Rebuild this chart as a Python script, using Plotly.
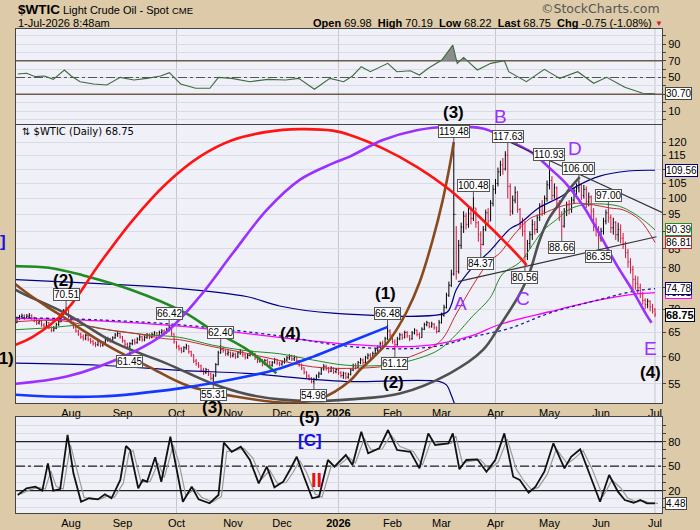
import numpy as np
import pandas as pd
import plotly.graph_objects as go

# daily bars, one (high, low, close) per weekday
jul25 = [(67.6, 66.3, 67.0), (68.3, 66.9, 67.9), (68.7, 67.6, 68.3), (69.0, 67.9, 68.5), (68.8, 67.6, 68.1),
         (68.9, 67.8, 68.4), (69.1, 68.0, 68.6), (68.8, 67.6, 68.0), (68.3, 67.1, 67.5), (67.8, 66.5, 66.9),
         (67.7, 66.6, 67.3), (67.4, 66.1, 66.5), (66.9, 65.8, 66.2), (67.4, 66.0, 67.0), (67.1, 65.6, 66.0),
         (66.2, 65.0, 65.4), (66.3, 65.1, 65.8), (67.0, 65.6, 66.6), (67.6, 66.3, 67.2), (69.2, 67.1, 68.8),
         (70.0, 68.6, 69.6), (70.51, 69.0, 69.9), (69.8, 67.9, 68.2)]
aug25 = [(68.5, 66.6, 67.0), (67.2, 65.7, 66.0), (66.3, 64.9, 65.2), (65.5, 64.2, 64.6), (64.9, 63.6, 64.0),
         (64.5, 63.2, 63.7), (64.6, 63.3, 64.3), (64.4, 63.1, 63.5), (63.8, 62.6, 63.0), (63.4, 62.2, 62.6),
         (63.0, 61.9, 62.4), (63.4, 62.1, 63.1), (63.2, 61.9, 62.3), (63.1, 62.0, 62.8), (63.6, 62.5, 63.3),
         (64.0, 63.0, 63.6), (63.8, 62.8, 63.2), (64.1, 63.0, 63.8), (64.8, 63.6, 64.4), (65.1, 64.0, 64.7),
         (64.9, 63.6, 64.0)]
sep25 = [(64.2, 62.8, 63.2), (63.4, 62.1, 62.5), (62.8, 61.6, 62.0), (62.9, 61.45, 62.6), (63.5, 62.3, 63.2),
         (63.6, 62.4, 62.8), (63.9, 62.6, 63.5), (64.4, 63.2, 64.0), (64.2, 63.0, 63.4), (64.3, 63.1, 63.9),
         (64.8, 63.6, 64.4), (64.7, 63.5, 63.9), (64.9, 63.7, 64.5), (65.2, 64.1, 64.8), (65.0, 63.9, 64.3),
         (65.3, 64.1, 64.9), (65.6, 64.5, 65.2), (65.5, 64.3, 64.8), (65.9, 64.7, 65.6), (66.42, 65.1, 65.9),
         (65.8, 64.2, 64.6), (64.7, 62.6, 63.0)]
oct25 = [(63.1, 61.6, 62.0), (62.4, 61.2, 61.6), (61.9, 60.7, 61.1), (62.1, 60.9, 61.8), (62.6, 61.4, 62.2),
         (62.3, 60.6, 61.0), (61.2, 60.0, 60.4), (60.5, 58.8, 59.2), (59.6, 58.3, 58.7), (59.0, 57.9, 58.3),
         (58.5, 57.1, 57.5), (57.9, 56.6, 57.0), (57.9, 56.8, 57.6), (57.7, 56.4, 56.8), (57.0, 55.6, 56.0),
         (56.8, 55.31, 56.4), (58.8, 56.3, 58.5), (61.2, 58.4, 60.8), (62.40, 60.6, 61.5), (62.0, 60.8, 61.2),
         (61.4, 60.2, 60.6), (61.3, 60.2, 60.9), (61.0, 59.8, 60.2)]
nov25 = [(60.9, 59.9, 60.5), (60.8, 59.6, 60.0), (61.1, 59.8, 60.8), (61.5, 60.4, 61.1), (61.2, 60.0, 60.4),
         (60.7, 59.5, 59.9), (60.6, 59.6, 60.3), (61.2, 60.1, 60.9), (61.2, 60.2, 60.6), (60.8, 59.4, 59.8),
         (60.0, 58.8, 59.2), (59.9, 58.9, 59.5), (59.6, 58.2, 58.6), (59.6, 58.4, 59.3), (59.6, 58.6, 59.0),
         (59.2, 58.0, 58.4), (59.2, 58.1, 58.9), (59.8, 58.7, 59.5), (59.6, 58.4, 58.8), (59.1, 58.2, 58.6)]
dec25 = [(59.3, 58.3, 59.0), (59.8, 58.7, 59.4), (60.2, 59.1, 59.8), (60.5, 59.4, 60.1), (60.4, 59.2, 59.6),
         (60.3, 59.2, 59.9), (60.1, 58.9, 59.3), (59.4, 58.1, 58.5), (58.7, 57.5, 57.9), (58.0, 56.7, 57.1),
         (57.3, 56.0, 56.4), (56.7, 55.6, 56.0), (56.2, 55.1, 55.4), (56.1, 54.98, 55.8), (56.7, 55.6, 56.4),
         (57.2, 56.0, 56.8), (58.0, 56.6, 57.7), (58.6, 57.4, 58.2), (58.5, 57.4, 57.8), (58.1, 56.9, 57.3),
         (58.2, 57.1, 57.9), (58.0, 56.8, 57.2), (57.9, 56.9, 57.6)]
jan26 = [(57.9, 56.6, 57.0), (57.3, 56.1, 56.5), (57.2, 55.9, 56.9), (57.1, 55.8, 56.2), (57.0, 55.9, 56.7),
         (57.8, 56.5, 57.5), (58.7, 57.3, 58.3), (58.8, 57.6, 58.0), (59.2, 57.9, 58.9), (59.8, 58.6, 59.4),
         (59.7, 58.5, 58.9), (60.2, 58.8, 59.8), (60.7, 59.5, 60.3), (60.7, 59.5, 59.9), (61.0, 59.7, 60.6),
         (61.7, 60.4, 61.3), (62.3, 61.0, 61.9), (63.0, 61.7, 62.6), (63.2, 61.8, 62.2), (64.0, 62.1, 63.6),
         (66.48, 63.4, 65.2), (65.6, 63.9, 64.4)]
feb26 = [(64.6, 62.6, 63.0), (63.5, 61.12, 62.4), (64.0, 62.2, 63.6), (64.8, 63.3, 64.4), (64.7, 63.4, 63.8),
         (65.3, 63.7, 64.9), (65.2, 63.8, 64.2), (64.4, 63.1, 63.6), (65.2, 63.4, 64.8), (65.8, 64.5, 65.4),
         (65.5, 64.1, 64.5), (64.9, 63.5, 63.9), (66.0, 63.8, 65.6), (67.0, 65.4, 66.6), (67.4, 66.2, 67.0),
         (67.1, 65.8, 66.2), (67.2, 65.9, 66.7), (66.9, 65.5, 65.9), (66.2, 64.7, 65.1), (67.6, 65.0, 67.0)]
mar26 = [(69.2, 66.8, 68.6), (71.0, 68.3, 70.4), (73.8, 70.1, 73.2), (76.5, 72.8, 75.6), (79.5, 75.2, 78.4),
         (119.48, 78.0, 95.0), (91.5, 77.0, 79.0), (87.5, 78.5, 86.0), (92.5, 85.0, 91.2), (96.0, 89.5, 94.5),
         (95.5, 90.5, 92.0), (97.0, 91.0, 95.2), (97.5, 92.0, 93.8), (100.48, 93.0, 97.0), (97.0, 91.0, 92.5),
         (93.0, 87.0, 89.0), (90.0, 84.37, 86.2), (91.5, 86.0, 90.5), (96.5, 90.0, 95.5), (97.0, 92.0, 93.0),
         (99.5, 93.0, 98.5), (104.5, 97.5, 103.0)]
apr26 = [(106.5, 101.5, 105.0), (110.5, 104.0, 109.0), (113.0, 107.5, 111.5), (114.0, 108.0, 110.0),
         (116.5, 109.5, 115.0), (117.63, 100.0, 104.0), (105.0, 94.5, 96.0), (101.0, 95.0, 99.5),
         (104.0, 98.5, 102.0), (102.5, 95.5, 96.5), (97.0, 90.5, 92.0), (94.0, 88.5, 90.0),
         (93.0, 80.56, 83.0), (87.5, 82.0, 86.5), (90.0, 85.0, 89.0), (93.5, 87.5, 92.0),
         (93.0, 89.0, 90.5), (95.0, 89.5, 94.0), (98.5, 93.0, 97.5), (99.5, 94.5, 96.0),
         (101.0, 95.0, 100.0), (106.0, 99.0, 104.5)]
may26 = [(110.93, 103.0, 106.0), (107.5, 99.5, 101.0), (105.0, 100.0, 103.5), (104.0, 97.0, 98.5),
         (99.5, 93.0, 95.0), (96.0, 88.66, 91.5), (97.0, 91.0, 96.0), (99.0, 94.5, 98.0),
         (99.5, 95.0, 96.5), (100.5, 95.5, 99.5), (103.5, 98.5, 102.5), (105.0, 101.0, 103.5),
         (106.00, 102.0, 104.5), (105.0, 99.5, 101.0), (104.5, 100.0, 103.0), (104.0, 97.0, 99.0),
         (102.0, 97.5, 100.5), (101.0, 94.0, 96.0), (97.0, 90.0, 92.0), (94.0, 88.5, 90.5),
         (91.5, 86.35, 88.0)]
jun26 = [(91.0, 87.0, 90.0), (94.0, 89.0, 93.0), (96.5, 92.0, 95.5), (97.00, 92.5, 94.0), (95.0, 89.5, 91.0),
         (94.0, 89.0, 92.5), (93.0, 87.5, 89.0), (92.5, 87.0, 90.5), (92.0, 86.5, 88.0), (89.5, 85.0, 86.5),
         (87.0, 82.5, 84.0), (85.0, 80.0, 81.5), (82.5, 78.5, 79.5), (80.5, 74.0, 77.0), (78.0, 74.5, 76.0),
         (77.8, 73.5, 75.0), (76.0, 72.5, 73.5), (74.0, 71.0, 72.0), (72.5, 70.0, 71.0), (72.4, 70.2, 71.8),
         (72.0, 69.5, 70.5), (71.2, 69.0, 69.5)]
jul26 = [(70.19, 68.22, 68.75)]
last_open = 69.98

# overlays, knots as (bar number, value)
ma_red_x = [0.5, 19.5, 34, 48, 61.6, 67.3, 80.8, 94.5, 108, 121.5, 135.3, 153, 159.7, 173.3, 180, 186.8,
            193.7, 197.7, 203.1, 209.9, 215.4, 222.2, 229, 235.8, 242.6, 248, 254.8, 261]
ma_red_y = [67.2, 67.4, 65.8, 64.8, 63.6, 63.4, 62.0, 60.7, 59.3, 58.1, 57.8, 58.4, 59.7, 63.0, 68.9, 75.6,
            81.8, 83.8, 88.6, 93.7, 95.3, 97.4, 98.5, 98.0, 97.0, 96.4, 93.3, 86.81]
ma_green_x = [0.5, 14, 27.7, 41.2, 54.8, 67.3, 80.8, 94.5, 108, 121.5, 135.3, 153, 166.5, 173.3, 180, 186.8,
              193.7, 199, 205.9, 211.3, 215.4, 220.8, 226.2, 231.7, 238.5, 246.6, 252, 257.5, 261]
ma_green_y = [65.5, 65.9, 66.4, 65.2, 64.4, 63.9, 62.3, 61.2, 60.6, 59.4, 58.4, 58.5, 60.0, 61.5, 64.5, 68.5,
              72.5, 78.5, 81.4, 86.3, 90.2, 93.4, 96.6, 98.0, 98.3, 97.5, 95.5, 92.6, 90.39]
band_up_x = [0.5, 34.7, 67.3, 94.5, 108, 129.7, 176, 178, 180, 186.8, 193.7, 201.8, 205.9, 214, 222.2,
             229, 238.5, 250, 261]
band_up_y = [77.0, 76.0, 74.8, 72.9, 70.7, 69.1, 69.2, 71.0, 74.5, 80.2, 84.4, 90.6, 92.3, 97.2, 100.4,
             104.0, 107.5, 109.3, 109.56]
band_lo_x = [0.5, 34.7, 68.6, 94.5, 121.5, 135.3, 173.3, 176, 178, 181]
band_lo_y = [58.8, 58.4, 57.4, 56.9, 55.8, 55.4, 55.4, 54.8, 53.0, 49.5]
ma_mag_x = [0.5, 34.5, 68.4, 108, 135.3, 159.7, 173.3, 186.8, 197.7, 218, 238.5, 252, 261]
ma_mag_y = [67.95, 67.4, 66.2, 63.9, 62.5, 62.0, 62.6, 64.3, 66.6, 69.4, 72.1, 73.4, 73.81]
ma_dot_x = [0.5, 34.5, 68.4, 108, 135.3, 159.7, 173.3, 186.8, 201.8, 218, 238.5, 248, 255, 261]
ma_dot_y = [68.1, 67.6, 66.5, 64.2, 62.1, 61.6, 62.2, 64.0, 65.8, 69.1, 72.2, 73.6, 74.4, 74.78]

# cycle arcs
arc_red_x = [-6, 7.4, 21.2, 34.7, 48.2, 61.9, 75.5, 88.9, 102.8, 116.2, 129.7, 136.6, 150.1, 163.9, 177.4,
             190.8, 201.8, 208.7]
arc_red_y = [61.3, 64.0, 69.8, 81.1, 93.3, 105.0, 114.5, 120.8, 124.0, 125.1, 124.5, 122.8, 117.6, 110.8,
             102.8, 93.3, 85.6, 80.7]
arc_purple_x = [-6, 21.2, 48.2, 61.9, 75.5, 88.9, 102.8, 116.2, 129.7, 136.6, 150.1, 163.9, 177.4, 190.8,
                197.7, 204.5, 211.3, 218.1, 224.9, 231.7, 238.5, 245.3, 252.1, 257.5, 259.6]
arc_purple_y = [54.8, 56.3, 60.9, 65.0, 72.9, 83.8, 96.4, 106.2, 112.0, 114.5, 120.8, 124.7, 126.1, 125.4,
                122.7, 119.2, 115.7, 110.3, 104.8, 97.7, 89.1, 80.8, 74.1, 68.7, 67.0]
arc_green_x = [-6, 0.5, 14, 27.7, 48, 69, 80.8, 94.5, 106.7]
arc_green_y = [80.3, 80.4, 80.0, 78.1, 74.4, 69.3, 65.3, 61.5, 56.9]
arc_gray_x = [-6, 0.5, 20.9, 41.2, 61.6, 80.8, 94.5, 108, 122, 136.6, 157, 177.4, 190.8, 197.7, 205.9, 210,
              214, 218, 222.2, 226, 230.3]
arc_gray_y = [77.3, 74.5, 69.0, 62.7, 58.8, 55.0, 53.2, 52.3, 52.0, 52.3, 53.3, 56.9, 61.3, 66.3, 73.5, 79.0,
              87.5, 94.0, 98.5, 103.0, 107.2]
arc_brown_x = [-6, 0.5, 14.1, 20.9, 27.7, 41.2, 54.8, 69.8, 90, 112, 125, 136.6, 140.7, 146, 152.9, 159.8,
               165.1, 170.4, 174.5, 177.4, 179]
arc_brown_y = [80.0, 75.8, 70.2, 67.9, 65.4, 61.3, 58.1, 54.8, 52.8, 51.75, 52.5, 55.5, 57.5, 59.8, 63.4,
               69.4, 76.4, 87.5, 99.5, 111.4, 120.0]
arc_blue_x = [-6, 0.5, 34.5, 67.3, 94.5, 108.1, 121.5, 135.3, 152.1]
arc_blue_y = [53.4, 53.1, 52.8, 54.2, 56.3, 57.8, 60.0, 62.7, 66.1]

# trend lines
trend1_x = [199.5, 263.85]
trend1_y = [121.0, 95.6]
trend2_x = [180.7, 261.6]
trend2_y = [76.5, 88.4]

# price callouts (bar, price)
top_marks = [(21, 70.51), (63, 66.42), (84, 62.40), (152, 66.48), (179, 119.48), (187, 100.48),
             (201, 117.63), (218, 110.93), (230, 106.00), (242, 97.00)]
bottom_marks = [(47, 61.45), (81, 55.31), (122, 54.98), (155, 61.12), (190, 84.37), (208, 80.56),
                (223, 88.66), (238, 86.35)]

# RSI(14)
rsi_x = [1.3, 4.9, 8.5, 12.2, 15.8, 20.3, 23.1, 26.7, 32.2, 37.6, 43.1, 48.6, 53.9, 59.5, 63.1, 67.7, 73.8,
         79.6, 83.1, 88.5, 95.9, 103.2, 110.4, 115.8, 122.2, 128.5, 134.1, 137.7, 141.3, 145.0, 152.1, 155.8,
         161.3, 165.0, 168.6, 174.1, 178.6, 180.4, 183.0, 188.6, 194.1, 199.6, 201.4, 208.6, 215.9, 222.2,
         229.5, 236.0, 241.3, 248.7, 256.0, 261.0]
rsi_y = [54.2, 55.0, 51.0, 51.8, 47.8, 59.0, 51.8, 45.0, 42.3, 41.0, 50.2, 47.0, 49.0, 51.8, 55.7, 42.3, 37.1,
         37.1, 50.2, 49.0, 45.0, 47.8, 47.0, 49.0, 36.0, 49.0, 45.0, 51.8, 62.9, 56.9, 66.9, 56.9, 58.1, 53.0,
         61.0, 70.8, 88.7, 66.9, 74.0, 59.0, 66.9, 70.0, 56.9, 45.0, 59.8, 49.0, 56.9, 43.1, 50.2, 38.3, 31.2,
         30.7]
rsi_levels = [70, 50, 30]

# slow stochastics %K and %D
sto_x = [1.3, 4.9, 8.5, 11.3, 13.6, 15.8, 18.6, 21.6, 24.0, 27.1, 30.4, 34.0, 36.8, 39.5, 43.1, 45.4, 47.1,
         50.4, 52.2, 54.0, 57.3, 59.8, 63.5, 65.8, 68.6, 72.2, 75.0, 79.5, 83.1, 85.3, 88.5, 92.2, 95.9, 99.5,
         102.8, 105.9, 109.5, 112.2, 115.0, 117.7, 121.3, 124.1, 127.7, 130.4, 135.0, 137.7, 141.3, 144.1,
         148.6, 152.2, 155.9, 161.3, 165.0, 168.6, 171.4, 176.8, 178.6, 181.3, 184.1, 188.6, 192.3, 195.9,
         199.6, 203.2, 205.9, 209.5, 212.3, 215.9, 219.6, 224.1, 226.8, 230.5, 234.1, 238.6, 242.3, 245.9,
         248.7, 252.3, 255.0, 257.7, 261.0]
sto_k = [14.7, 22.9, 24.9, 20, 53.5, 20, 22, 88.2, 41.3, 6.5, 10.7, 9.4, 15.6, 10.7, 33.1, 74.7, 69.8, 22.9,
         33.1, 31, 60.9, 31, 86.1, 49.4, 6.5, 24.9, 9.4, 4.6, 14.7, 78.8, 67.7, 73.9, 57.6, 29, 49.4, 24.2, 31,
         45.3, 61.6, 39.2, 10.7, 12.7, 57.6, 49.4, 63.7, 51.5, 92.2, 65.8, 71.9, 94.3, 69.8, 67.7, 47.4, 90.2,
         75.9, 78, 90.2, 46.2, 57.6, 58.4, 43.3, 57.6, 90.2, 37.1, 33.1, 17.6, 24.9, 43.3, 78, 47.4, 61.6, 70.7,
         41.3, 6.5, 39.2, 18.8, 8.6, 5.3, 8.6, 4.6, 4.48]
sto_d = [16, 21, 24, 22, 44, 25, 22, 76, 48, 12, 10, 10, 14, 12, 29, 66, 69, 30, 31, 31, 54, 36, 76, 54, 14,
         22, 12, 6, 13, 68, 69, 72, 60, 34, 45, 29, 30, 42, 57, 43, 16, 12, 49, 50, 61, 54, 84, 70, 71, 88, 74,
         68, 51, 82, 78, 78, 87, 54, 56, 58, 46, 55, 83, 47, 34, 21, 24, 40, 71, 53, 59, 69, 47, 13, 33, 23, 11,
         6, 8, 5, 4.6]
sto_levels = [80, 50, 20]

bars = jul25 + aug25 + sep25 + oct25 + nov25 + dec25 + jan26 + feb26 + mar26 + apr26 + may26 + jun26 + jul26
highs = [b[0] for b in bars]
lows = [b[1] for b in bars]
closes = [b[2] for b in bars]
opens = [closes[0]] + closes[:-1]
opens[-1] = last_open
xs = list(range(len(bars)))

dates = pd.bdate_range("2025-07-01", periods=len(bars))
tick_pos, tick_txt = [], []
for i in range(1, len(dates)):
    if dates[i].month != dates[i - 1].month:
        tick_pos.append(i)
        tick_txt.append("<b>%d</b>" % dates[i].year if dates[i].month == 1 else dates[i].strftime("%b"))
quarters = [i for i in tick_pos if dates[i].month in (1, 4, 7, 10)]

TAN = "#dccaa9"
PANEL = "#f0f0f8"
FONT = "Liberation Sans, Arial, sans-serif"
XR = [0.59, 263.85]


def PX(px):
    return (px - 16) / 646.0


def PY(py):
    return (513 - py) / 484.0


def fill_above(xv, yv, lvl):
    ox, oy = [], []
    for i in range(len(xv)):
        if i > 0 and (yv[i - 1] - lvl) * (yv[i] - lvl) < 0:
            xc = xv[i - 1] + (lvl - yv[i - 1]) * (xv[i] - xv[i - 1]) / (yv[i] - yv[i - 1])
            ox.append(xc)
            oy.append(lvl)
            if yv[i] < lvl:
                ox.append(None)
                oy.append(None)
        if yv[i] > lvl:
            ox.append(xv[i])
            oy.append(yv[i])
    return ox, oy


fig = go.Figure()


def line(x, y, color, width, dash="solid", shape="spline", axes=("x", "y")):
    fig.add_trace(go.Scatter(x=x, y=y, mode="lines", line=dict(color=color, width=width, dash=dash, shape=shape),
                             xaxis=axes[0], yaxis=axes[1], hoverinfo="skip"))


# main panel
line(band_up_x, band_up_y, "#000080", 1.2)
line(band_lo_x, band_lo_y, "#000080", 1.2)
line(ma_mag_x, ma_mag_y, "#ff00ff", 1.3)
line(ma_dot_x, ma_dot_y, "#1a1a9a", 1.3, dash="dot")
line(ma_green_x, ma_green_y, "#228b22", 1)
line(ma_red_x, ma_red_y, "#c8282d", 1)

fig.add_trace(go.Ohlc(x=xs, open=opens, high=highs, low=lows, close=closes,
                      increasing=dict(line=dict(color="black", width=1)),
                      decreasing=dict(line=dict(color="#d9143c", width=1)),
                      tickwidth=0.35, xaxis="x", yaxis="y", hoverinfo="skip"))

line(arc_green_x, arc_green_y, "#1f8a1f", 2.6)
line(arc_gray_x, arc_gray_y, "#505050", 2.6)
line(arc_brown_x, arc_brown_y, "#8b4a1c", 2.6)
line(arc_blue_x, arc_blue_y, "#1438ff", 2.6)
line(arc_red_x, arc_red_y, "#ff1414", 2.6)
line(arc_purple_x, arc_purple_y, "#9b30ff", 2.6)
line(trend1_x, trend1_y, "#333333", 1.2, shape="linear")
line(trend2_x, trend2_y, "#333333", 1.2, shape="linear")

# RSI panel
for lv in rsi_levels:
    line(XR, [lv, lv], "#555" if lv == 50 else "#6e5b4b", 1.2 if lv == 50 else 1.4,
         dash="dashdot" if lv == 50 else "solid", shape="linear", axes=("x2", "y2"))
fx, fy = fill_above(rsi_x, rsi_y, 70)
fig.add_trace(go.Scatter(x=fx, y=fy, mode="lines", fill="toself", fillcolor="#8c8c8c",
                         line=dict(width=0), xaxis="x2", yaxis="y2", hoverinfo="skip"))
line(rsi_x, rsi_y, "#3f6a3f", 1.1, shape="linear", axes=("x2", "y2"))

# stochastics panel
for lv in sto_levels:
    line(XR, [lv, lv], "#222", 1.3, dash="dashdot" if lv == 50 else "solid", shape="linear", axes=("x3", "y3"))
line([v + 1.2 for v in sto_x], sto_d, "#9a9a9a", 1.2, shape="linear", axes=("x3", "y3"))
line(sto_x, sto_k, "#111111", 1.8, shape="linear", axes=("x3", "y3"))

ann = []
for i, p in top_marks:
    ann.append(dict(x=i, y=np.log10(p), xref="x", yref="y", text="%.2f" % p, showarrow=True,
                    arrowhead=0, arrowwidth=1, arrowcolor="#555", ax=0, ay=-12,
                    bgcolor="white", bordercolor="#555", borderwidth=1, borderpad=0,
                    font=dict(size=10, family=FONT, color="black")))
for i, p in bottom_marks:
    ann.append(dict(x=i, y=np.log10(p), xref="x", yref="y", text="%.2f" % p, showarrow=True,
                    arrowhead=0, arrowwidth=1, arrowcolor="#555", ax=0, ay=12,
                    bgcolor="white", bordercolor="#555", borderwidth=1, borderpad=0,
                    font=dict(size=10, family=FONT, color="black")))

# right edge value tags
tags = [(73.81, "#ff00ff", "73.81", "y"), (74.78, "#000080", "74.78", "y"), (109.56, "#000080", "109.56", "y"),
        (90.39, "#228b22", "90.39", "y"), (86.81, "#c8282d", "86.81", "y"),
        (68.75, "black", "<b>68.75</b>", "y"), (30.70, "#444", "30.70", "y2"), (4.48, "#444", "4.48", "y3")]
for v, c, t, ya in tags:
    ann.append(dict(x=1, y=np.log10(v) if ya == "y" else v, xref="paper", yref=ya, text=t, showarrow=False,
                    xanchor="left", xshift=3, bgcolor="white", bordercolor=c, borderwidth=1, borderpad=0,
                    font=dict(size=11 if t.startswith("<b>") else 10, family=FONT, color="black")))

# wave labels
waves = [("(2)", 63.5, 280, "black", True), ("(1)", 3, 358, "black", True), ("[C]", -6, 241, "#1414e6", True),
         ("(3)", 212, 407, "black", True), ("(4)", 290, 333, "black", True), ("(5)", 309, 417, "black", True),
         ("[C]", 310, 440, "#1414e6", True), ("(1)", 386, 293, "black", True), ("(2)", 393, 382, "black", True),
         ("(3)", 453, 113, "black", True), ("A", 460, 303, "#9b30ff", False), ("B", 500, 117, "#9b30ff", False),
         ("C", 523, 298, "#9b30ff", False), ("D", 575, 148, "#9b30ff", False), ("E", 650, 348, "#9b30ff", False),
         ("(4)", 650, 372, "black", True), ("II", 316, 480, "#ee1111", True)]
for t, px, py, c, b in waves:
    ann.append(dict(x=PX(px), y=PY(py), xref="paper", yref="paper", showarrow=False,
                    text="<b>%s</b>" % t if b else t, xanchor="center", yanchor="middle",
                    font=dict(size=20 if t == "II" else (17 if b else 19), family=FONT, color=c)))

# header
hdr = [("<b>$WTIC</b>", 16, 9.5, 13.5, "left", "black", FONT),
       ("Light Crude Oil - Spot", 61, 10, 11, "left", "black", FONT),
       ("CME", 170, 10.5, 9.5, "left", "black", FONT),
       ("1-Jul-2026 8:48am", 16, 23.5, 11, "left", "black", FONT),
       ("<b>Open</b> 69.98  <b>High</b> 70.19  <b>Low</b> 68.22  <b>Last</b> 68.75  <b>Chg</b> -0.75 (-1.08%)",
        654, 23.5, 11, "right", "black", FONT),
       ("\u25bc", 659, 23.5, 8, "center", "#d9143c", FONT),
       ("\u00a9StockCharts.com", 662, 9, 12.5, "right", "#555", "DejaVu Sans, sans-serif"),
       ("\u21c5 $WTIC (Daily) 68.75", 20, 131, 10, "left", "black", "DejaVu Sans, sans-serif")]
for t, px, py, s, xa, c, f in hdr:
    ann.append(dict(x=PX(px), y=PY(py), xref="paper", yref="paper", showarrow=False, text=t,
                    xanchor=xa, yanchor="middle", font=dict(size=s, family=f, color=c)))

shapes = []
for q in quarters:
    for xa, ya in (("x", "y"), ("x2", "y2"), ("x3", "y3")):
        shapes.append(dict(type="line", xref=xa, yref=ya + " domain", x0=q, x1=q, y0=0, y1=1,
                           line=dict(color="#c6c6cc", width=1), layer="below"))
shapes.append(dict(type="rect", xref="x", yref="y", x0=260.2, x1=262.2, y0=np.log10(67.0), y1=np.log10(70.0),
                   fillcolor="#ffff33", line=dict(width=0), layer="below"))

axis_common = dict(range=XR, showgrid=False, showline=True, linecolor="#444", linewidth=1, mirror=True,
                   tickvals=tick_pos, ticktext=tick_txt, ticks="", zeroline=False, automargin=False,
                   tickfont=dict(size=11, family=FONT, color="black"))
yax_common = dict(side="right", showline=True, linecolor="#444", linewidth=1, mirror=True, ticks="outside",
                  ticklen=3, tickcolor="#444", gridcolor="#dadae2", gridwidth=1, zeroline=False,
                  automargin=False, tickfont=dict(size=11, family=FONT, color="black"))

main_ticks = list(range(55, 121, 5))
main_text = ["" if v in (75, 90, 110) else str(v) for v in main_ticks]

fig.update_layout(
    width=700, height=530, margin=dict(l=16, r=38, t=29, b=17, autoexpand=False),
    paper_bgcolor=TAN, plot_bgcolor=PANEL, showlegend=False,
    font=dict(family=FONT, size=11, color="black"),
    xaxis=dict(axis_common, anchor="y", domain=[0, 1]),
    xaxis2=dict(axis_common, anchor="y2", domain=[0, 1], showticklabels=False, matches="x"),
    xaxis3=dict(axis_common, anchor="y3", domain=[0, 1], matches="x"),
    yaxis=dict(yax_common, type="log", domain=[0.2273, 0.8017], anchor="x",
               range=[np.log10(51.7), np.log10(126.8)], tickvals=main_ticks, ticktext=main_text),
    yaxis2=dict(yax_common, domain=[0.8037, 1], anchor="x2", range=[-5.5, 107.9],
                tickvals=list(range(0, 101, 10)),
                ticktext=["", "10", "", "", "", "50", "", "70", "", "90", ""]),
    yaxis3=dict(yax_common, domain=[0, 0.1983], anchor="x3", range=[-7.3, 110.2],
                tickvals=list(range(0, 101, 10)),
                ticktext=["", "", "20", "", "", "50", "", "", "80", "", ""]),
    annotations=ann, shapes=shapes,
)
fig.update_xaxes(rangeslider_visible=False)

fig.write_html("out.html", config={"displayModeBar": False},
               post_script="document.body.style.margin='0';document.body.style.overflow='hidden';")
